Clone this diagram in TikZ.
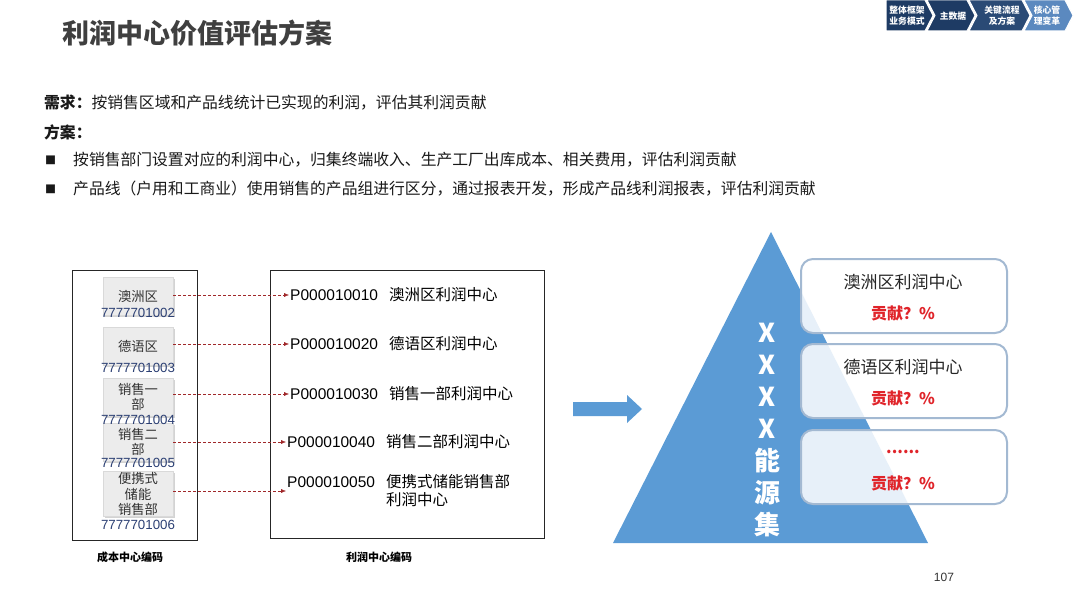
\documentclass[tikz,border=0pt]{standalone}
\usepackage{fontspec}
\setmainfont{Noto Sans CJK SC}
\newfontfamily\lat{Liberation Sans}
\usetikzlibrary{arrows.meta,shadows}
\definecolor{navy}{HTML}{1E3B64}
\definecolor{navymid}{HTML}{2A4A75}
\definecolor{navylt}{HTML}{5B89BF}
\definecolor{numblue}{HTML}{2B3F73}
\definecolor{titlegray}{HTML}{3F3F3F}
\definecolor{linkred}{HTML}{A0282A}
\definecolor{pyrblue}{HTML}{5B9BD5}
\definecolor{boxedge}{HTML}{A3B9D2}
\definecolor{hotred}{HTML}{E0242A}
\newcommand{\codegap}{\hspace{11pt}}
\begin{document}
\begin{tikzpicture}[x=1pt,y=-1pt,
    cc/.style={draw=gray!30, fill=gray!15, minimum width=70pt, minimum height=38pt, inner sep=1pt, align=center,
        font=\fontsize{13.3}{15.5}\selectfont, text=black!80, drop shadow={opacity=0.35, shadow xshift=1.5pt, shadow yshift=-1.5pt}},
    ccnum/.style={font=\lat\fontsize{13.3}{15}\selectfont, text=numblue},
    pc/.style={anchor=west, align=left, inner sep=1pt, font=\fontsize{15.5}{18}\selectfont},
    link/.style={densely dashed, draw=linkred, -{Latex[length=5pt,width=4pt]}},
    captext/.style={font=\bfseries\fontsize{11}{13}\selectfont},
    txt/.style={anchor=west, inner sep=0pt, font=\fontsize{15.8}{18}\selectfont, text=black!90},
    chev/.style={fill=navy, draw=white, line width=1pt},
    chevtxt/.style={text=white, align=center, inner sep=0pt, font=\bfseries\fontsize{8.8}{11}\selectfont},
    share/.style={draw=boxedge, line width=2pt, rounded corners=12pt, fill=white, fill opacity=0.86,
        text opacity=1, minimum width=206pt, minimum height=74pt},
    sharename/.style={font=\fontsize{17}{20}\selectfont, text=black!85},
    sharepct/.style={font=\bfseries\fontsize{16}{18}\selectfont, text=hotred}
]
\useasboundingbox (0,0) rectangle (1080,607);

\node[anchor=west, inner sep=0pt, text=titlegray, font=\bfseries\fontsize{27}{31}\selectfont] (title) at (62,33) {利润中心价值评估方案};

\fill[chev] (886,0) -- (925,0) -- (933,15.5) -- (925,31) -- (886,31) -- cycle;
\fill[chev] (927,0) -- (967,0) -- (975,15.5) -- (967,31) -- (927,31) -- (935,15.5) -- cycle;
\fill[chev, fill=navymid] (969,0) -- (1022,0) -- (1030,15.5) -- (1022,31) -- (969,31) -- (977,15.5) -- cycle;
\fill[chev, fill=navylt] (1024,0) -- (1065,0) -- (1073,15.5) -- (1065,31) -- (1024,31) -- (1032,15.5) -- cycle;
\node[chevtxt] (nav1) at (907,16) {整体框架\\业务模式};
\node[chevtxt] (nav2) at (953,16) {主数据};
\node[chevtxt] (nav3) at (1002,16) {关键流程\\及方案};
\node[chevtxt] (nav4) at (1047,16) {核心管\\理变革};

\node[txt] (need) at (44,103) {\textbf{需求：}按销售区域和产品线统计已实现的利润，评估其利润贡献};
\node[txt] (plan) at (44,132) {\textbf{方案：}};
\node[txt, font=\fontsize{11}{12}\selectfont] (dot1) at (45,160) {■};
\node[txt] (item1) at (73,160) {按销售部门设置对应的利润中心，归集终端收入、生产工厂出库成本、相关费用，评估利润贡献};
\node[txt, font=\fontsize{11}{12}\selectfont] (dot2) at (45,189) {■};
\node[txt] (item2) at (73,189) {产品线（户用和工商业）使用销售的产品组进行区分，通过报表开发，形成产品线利润报表，评估利润贡献};

\draw[black!85] (72,270) rectangle (197,540);
\draw[black!85] (270,270) rectangle (544,538);

\node[cc] (cc1) at (138,296) {澳洲区};
\node[cc] (cc2) at (138,346) {德语区};
\node[cc] (cc3) at (138,397) {销售一\\部};
\node[cc] (cc4) at (138,442) {销售二\\部};
\node[cc] (cc5) at (138,494) {便携式\\储能\\销售部};
\node[ccnum] (ccn1) at (138,313) {7777701002};
\node[ccnum] (ccn2) at (138,368) {7777701003};
\node[ccnum] (ccn3) at (138,420) {7777701004};
\node[ccnum] (ccn4) at (138,463) {7777701005};
\node[ccnum] (ccn5) at (138,525) {7777701006};

\node[pc] (pc1) at (289,295) {{\lat P000010010}\codegap 澳洲区利润中心};
\node[pc] (pc2) at (289,344) {{\lat P000010020}\codegap 德语区利润中心};
\node[pc] (pc3) at (289,394) {{\lat P000010030}\codegap 销售一部利润中心};
\node[pc] (pc4) at (286,442) {{\lat P000010040}\codegap 销售二部利润中心};
\node[pc] (pc5) at (286,491) {{\lat P000010050}\codegap 便携式储能销售部\\\hphantom{{\lat P000010050}\codegap}利润中心};

\draw[link] (cc1.east |- pc1.west) -- (pc1.west);
\draw[link] (cc2.east |- pc2.west) -- (pc2.west);
\draw[link] (cc3.east |- pc3.west) -- (pc3.west);
\draw[link] (cc4.east |- pc4.west) -- (pc4.west);
\draw[link] (cc5.east |- pc5.west) -- (pc5.west);

\node[captext] (capcc) at (130,557) {成本中心编码};
\node[captext] (cappc) at (379,557) {利润中心编码};

\fill[pyrblue] (573,402) -- (627,402) -- (627,395) -- (642,409) -- (627,423) -- (627,416) -- (573,416) -- cycle;
\fill[pyrblue] (771,232) -- (928,543) -- (613,543) -- cycle;
\node[text=white, align=center, font=\bfseries\fontsize{26}{32}\selectfont] (group) at (767,430) {X\\X\\X\\X\\能\\源\\集};

\node[share] (sh1) at (904,296) {};
\node[share] (sh2) at (904,381) {};
\node[share] (sh3) at (904,467) {};
\node[sharename] (shn1) at (903,282) {澳洲区利润中心};
\node[sharepct] (shp1) at (903,313) {贡献？\%};
\node[sharename] (shn2) at (903,367) {德语区利润中心};
\node[sharepct] (shp2) at (903,398) {贡献？\%};
\node[sharepct] (shn3) at (903,452) {......};
\node[sharepct] (shp3) at (903,483) {贡献？\%};

\node[font=\lat\fontsize{12}{14}\selectfont, text=black!80] (page) at (944,577) {107};
\end{tikzpicture}
\end{document}
